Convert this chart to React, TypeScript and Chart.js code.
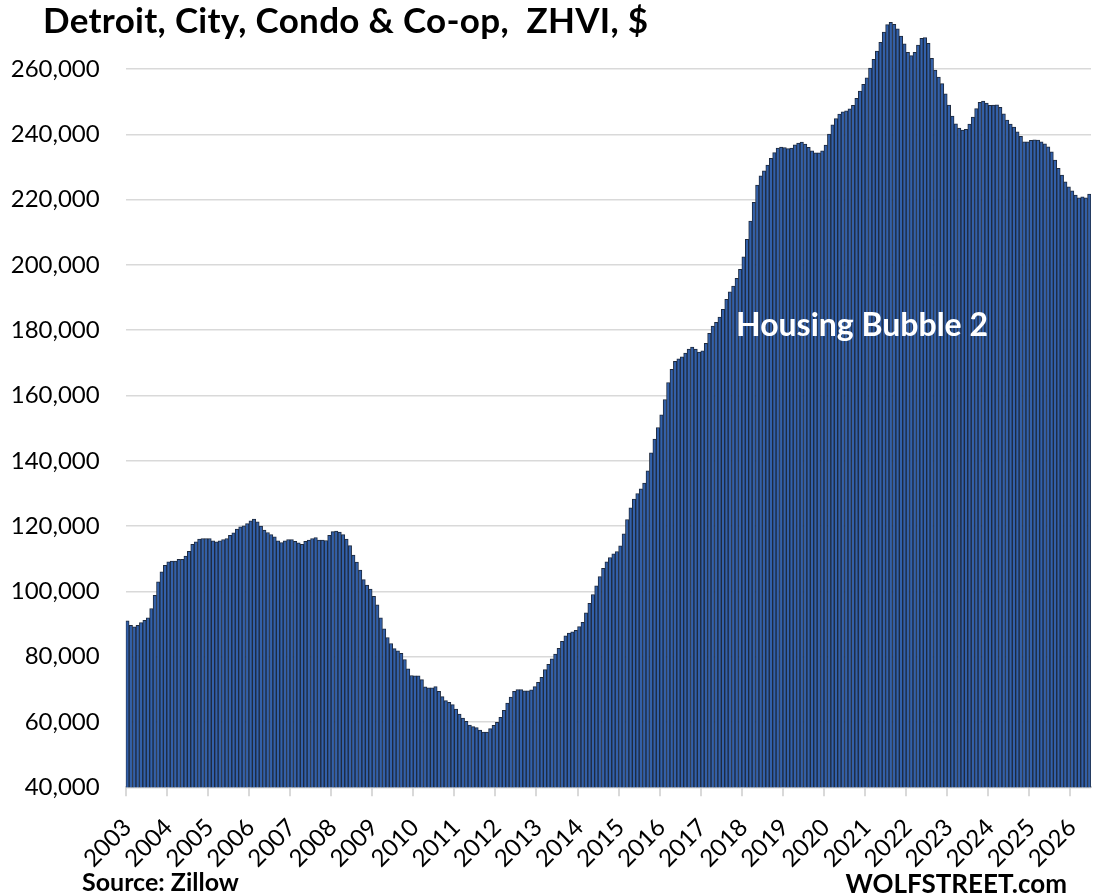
import React, { useEffect, useRef } from "react";
import { Chart, registerables } from "chart.js";

Chart.register(...registerables);

// ---- Data (monthly ZHVI, $) ----
const years = [2003, 2004, 2005, 2006, 2007, 2008, 2009, 2010, 2011, 2012, 2013, 2014, 2015, 2016, 2017, 2018, 2019, 2020, 2021, 2022, 2023, 2024, 2025, 2026];

const y2003 = [90960, 89640, 89120, 89640, 90450, 91170, 91880, 94750, 98830, 102910, 105970, 108020];
const y2004 = [109040, 109250, 109250, 109860, 109860, 110780, 112310, 114450, 115170, 115990, 116190, 116190];
const y2005 = [116190, 115470, 115170, 115470, 115890, 116190, 117210, 117920, 119050, 119760, 120070, 120790];
const y2006 = [121600, 122120, 121290, 119970, 118750, 118040, 117420, 116700, 115470, 114970, 115470, 115890];
const y2007 = [115890, 115370, 114860, 114450, 115370, 115680, 116190, 116500, 115680, 115700, 115600, 117200];
const y2008 = [118300, 118500, 118200, 117400, 116000, 114000, 111100, 109000, 106500, 103600, 101900, 100700];
const y2009 = [98500, 95900, 91880, 88510, 85870, 84030, 82490, 81760, 81060, 79130, 76250, 74230];
const y2010 = [74110, 74110, 72990, 70740, 70430, 70430, 70840, 69410, 67780, 66560, 66040, 65330];
const y2011 = [63990, 62460, 61230, 60220, 59090, 58600, 58290, 57560, 56940, 56940, 57980, 59000];
const y2012 = [59920, 61450, 63590, 65830, 67670, 69410, 69920, 69920, 69510, 69510, 69820, 70840];
const y2013 = [72170, 73700, 76050, 77690, 79310, 80840, 82590, 84730, 86360, 87200, 87650, 88100];
const y2014 = [89200, 90560, 93420, 96380, 99040, 101680, 104560, 107100, 109040, 110370, 111490, 112210];
const y2015 = [113940, 117610, 122020, 125590, 128240, 129980, 131400, 133150, 136920, 142430, 146630, 150210];
const y2016 = [154070, 158780, 163990, 167980, 170430, 171240, 171850, 172980, 174200, 174820, 174200, 173280];
const y2017 = [173690, 175950, 179010, 181260, 182380, 184010, 186360, 189420, 191770, 193510, 195860, 198620];
const y2018 = [202500, 207810, 213420, 219150, 224450, 227310, 228840, 230580, 232630, 234400, 235800, 236100];
const y2019 = [235900, 235600, 235800, 236800, 237300, 237600, 237000, 236000, 234950, 234300, 234300, 234950];
const y2020 = [236700, 240100, 242900, 244800, 246200, 246900, 247200, 247800, 248900, 251000, 253200, 255300];
const y2021 = [257300, 260300, 263000, 265500, 268200, 271300, 273600, 274300, 273700, 272300, 270100, 267700];
const y2022 = [265100, 264100, 265100, 267300, 269400, 269600, 267900, 263270, 259690, 257540, 255500, 252430];
const y2023 = [248960, 245590, 243240, 241920, 241310, 241510, 243140, 245290, 247840, 249790, 250190, 249580];
const y2024 = [248870, 248960, 249060, 248250, 246300, 244370, 243140, 242220, 240780, 239370, 237720, 237720];
const y2025 = [238140, 238340, 238240, 237720, 237110, 236190, 234660, 232110, 229560, 227520, 225470, 223940];
const y2026 = [222710, 221390, 220570, 220880, 220570, 221700];

const yearlySeries = [y2003, y2004, y2005, y2006, y2007, y2008, y2009, y2010, y2011, y2012, y2013, y2014, y2015, y2016, y2017, y2018, y2019, y2020, y2021, y2022, y2023, y2024, y2025, y2026];

const yTickMin = 40000;
const yTickMax = 260000;
const yStep = 20000;

const TITLE = "Detroit, City, Condo & Co-op,  ZHVI, $";
const ANNOTATION = "Housing Bubble 2";
const SOURCE = "Source: Zillow";
const WATERMARK = "WOLFSTREET.com";

// build labels & values
const labels: string[] = [];
const values: number[] = [];
yearlySeries.forEach((arr, yi) => {
  arr.forEach((v, mi) => {
    labels.push(`${years[yi]}-${String(mi + 1).padStart(2, "0")}`);
    values.push(v);
  });
});

const W = 1095;
const H = 896;
const AREA_LEFT = 125.7;
const AREA_RIGHT = 1091;
const AREA_BOTTOM = 787.3;
const AREA_TOP = 3.7;
const FONT = "Lato, 'Open Sans', sans-serif";

export default function App() {
  const ref = useRef<HTMLCanvasElement | null>(null);

  useEffect(() => {
    if (!ref.current) return;
    const chart = new Chart(ref.current, {
      type: "bar",
      data: {
        labels,
        datasets: [
          {
            data: values,
            backgroundColor: "#3260aa",
            borderColor: "#1e2a3e",
            borderWidth: 1,
            barPercentage: 1,
            categoryPercentage: 1,
          },
        ],
      },
      options: {
        responsive: false,
        animation: false,
        devicePixelRatio: 1,
        layout: {
          padding: { left: 0, right: W - AREA_RIGHT, top: AREA_TOP, bottom: 0 },
        },
        plugins: {
          legend: { display: false },
          tooltip: { enabled: false },
          title: { display: false },
        },
        scales: {
          x: {
            type: "category",
            offset: true,
            afterFit: (scale: any) => {
              scale.height = H - AREA_BOTTOM;
              scale.paddingLeft = 0;
              scale.paddingRight = 0;
            },
            border: { display: true, color: "#d9d9d9", width: 2 },
            grid: {
              offset: true,
              drawOnChartArea: false,
              drawTicks: true,
              tickLength: 9,
              lineWidth: 2,
              color: (ctx: any) => (ctx.index % 12 === 0 ? "#d9d9d9" : "rgba(0,0,0,0)"),
            },
            ticks: {
              autoSkip: false,
              minRotation: 45,
              maxRotation: 45,
              padding: 17,
              color: "#000",
              font: { family: FONT, size: 24 },
              callback: (_v: any, index: number) =>
                index % 12 === 0 ? String(years[Math.floor(index / 12)]) : "",
            },
          },
          y: {
            type: "linear",
            min: yTickMin,
            max: yTickMax + yStep,
            afterFit: (scale: any) => {
              scale.width = AREA_LEFT;
              scale.paddingTop = 0;
              scale.paddingBottom = 0;
            },
            afterBuildTicks: (scale: any) => {
              scale.ticks = scale.ticks.filter((t: any) => t.value <= yTickMax);
            },
            border: { display: false },
            grid: {
              color: "#d9d9d9",
              lineWidth: 1.5,
              drawTicks: false,
            },
            ticks: {
              stepSize: yStep,
              padding: 26,
              color: "#000",
              font: { family: FONT, size: 24 },
              callback: (v: any) => Number(v).toLocaleString("en-US"),
            },
          },
        },
      },
    } as any);
    return () => chart.destroy();
  }, []);

  const base: React.CSSProperties = {
    position: "absolute",
    fontFamily: FONT,
    fontWeight: 700,
    lineHeight: 1,
    whiteSpace: "pre",
    margin: 0,
  };

  return (
    <div style={{ position: "absolute", left: 0, top: 0, width: W, height: H, background: "#fff", overflow: "hidden" }}>
      <canvas ref={ref} width={W} height={H} style={{ position: "absolute", left: 0, top: 0, width: W, height: H }} />
      <div style={{ ...base, left: 43, top: 2.4, fontSize: 35, letterSpacing: 0.3, color: "#000" }}>{TITLE}</div>
      <div style={{ ...base, left: 736, top: 307.5, fontSize: 32, color: "#fff" }}>{ANNOTATION}</div>
      <div style={{ ...base, left: 82, top: 869, fontSize: 25, color: "#000" }}>{SOURCE}</div>
      <div style={{ ...base, right: 28, top: 869.5, fontSize: 26, color: "#000" }}>{WATERMARK}</div>
    </div>
  );
}
